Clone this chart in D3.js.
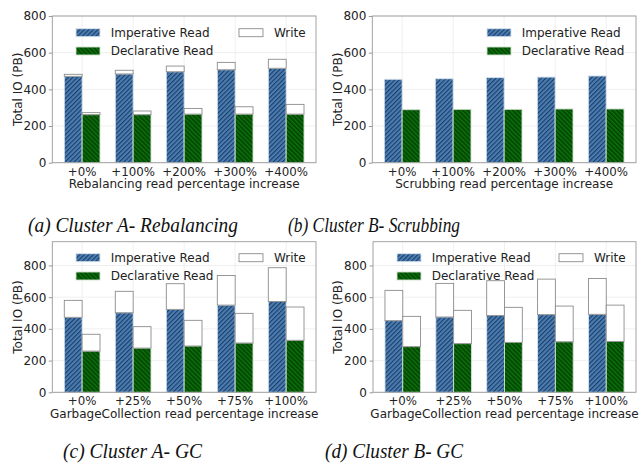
<!DOCTYPE html>
<html>
<head>
<meta charset="utf-8">
<script src="https://cdn.jsdelivr.net/npm/d3@7"></script>
<style>
  body { margin: 0; background: #fff; }
  text { font-family: "DejaVu Sans", sans-serif; }
</style>
</head>
<body>
<div id="chart"></div>
<script>
// categories
var rebLabels = ["+0%", "+100%", "+200%", "+300%", "+400%"];
var gcLabels = ["+0%", "+25%", "+50%", "+75%", "+100%"];
var yTicks = [0, 200, 400, 600, 800];

// (a) Cluster A - Rebalancing
var aImpRead = [471, 484, 496, 507, 515];
var aImpWrite = [11, 20, 31, 40, 49];
var aDecRead = [262, 262, 265, 265, 265];
var aDecWrite = [11, 20, 31, 40, 53];

// (b) Cluster B - Scrubbing
var bImpRead = [455, 458, 464, 467, 473];
var bDecRead = [289, 291, 291, 293, 293];

// (c) Cluster A - GC
var cImpRead = [473, 502, 523, 550, 573];
var cImpWrite = [107, 135, 162, 187, 213];
var cDecRead = [260, 279, 292, 311, 328];
var cDecWrite = [106, 135, 162, 187, 210];

// (d) Cluster B - GC
var dImpRead = [452, 475, 485, 490, 492];
var dImpWrite = [191, 212, 219, 224, 226];
var dDecRead = [288, 307, 315, 319, 321];
var dDecWrite = [191, 210, 221, 225, 229];

var svgWidth = 641;
var svgHeight = 463;

var svg = d3.select("#chart").append("svg")
  .attr("width", svgWidth)
  .attr("height", svgHeight);

// hatch patterns
var defs = svg.append("defs");
function hatch(id, bg, fg, angle) {
  var p = defs.append("pattern")
    .attr("id", id)
    .attr("patternUnits", "userSpaceOnUse")
    .attr("width", 3.2)
    .attr("height", 3.2)
    .attr("patternTransform", "rotate(" + angle + ")");
  p.append("rect").attr("width", 3.2).attr("height", 3.2).attr("fill", bg);
  p.append("rect").attr("width", 1.1).attr("height", 3.2).attr("fill", fg);
}
hatch("impHatch", "#4a7db3", "#1d3d63", 45);
hatch("decHatch", "#0a6a0a", "#013a01", -45);

var panels = [
  {ox: 0, oy: 0, left: 52.3, right: 316, top: 16, bottom: 162.7, ymax: 800,
   labels: rebLabels, xlabel: "Rebalancing read percentage increase",
   impRead: aImpRead, impWrite: aImpWrite, decRead: aDecRead, decWrite: aDecWrite,
   tickY: 175.5, xlabelY: 188, legend: [[76, 110.7], [239, 274]], legY: [32.7, 51],
   caption: "(a) Cluster A- Rebalancing", capX: 28, capY: 232, capW: 210},
  {ox: 320, oy: 0, left: 52.3, right: 316, top: 16, bottom: 162.7, ymax: 800,
   labels: rebLabels, xlabel: "Scrubbing read percentage increase",
   impRead: bImpRead, impWrite: null, decRead: bDecRead, decWrite: null,
   tickY: 175.5, xlabelY: 188, legend: [[167, 201.7]], legY: [32.7, 51],
   caption: "(b) Cluster B- Scrubbing", capX: -32, capY: 232, capW: 172},
  {ox: 0, oy: 225, left: 52.3, right: 316, top: 16.7, bottom: 167.3, ymax: 950,
   labels: gcLabels, xlabel: "GarbageCollection read percentage increase",
   impRead: cImpRead, impWrite: cImpWrite, decRead: cDecRead, decWrite: cDecWrite,
   tickY: 179.5, xlabelY: 193, legend: [[76, 110.7], [239, 274]], legY: [32.7, 51],
   caption: "(c) Cluster A- GC", capX: 63, capY: 233, capW: 139},
  {ox: 320, oy: 225, left: 53, right: 316, top: 16.7, bottom: 167.3, ymax: 950,
   labels: gcLabels, xlabel: "GarbageCollection read percentage increase",
   impRead: dImpRead, impWrite: dImpWrite, decRead: dDecRead, decWrite: dDecWrite,
   tickY: 179.5, xlabelY: 193, legend: [[77, 111.7], [239, 274]], legY: [32.7, 51],
   caption: "(d) Cluster B- GC", capX: 5, capY: 233, capW: 138}
];

panels.forEach(function(p) { drawPanel(p); });

function drawPanel(p) {
  var g = svg.append("g").attr("transform", "translate(" + p.ox + "," + p.oy + ")");
  var idx = d3.range(p.labels.length);
  var w = 0.35;

  var x = d3.scaleLinear().domain([-0.585, 4.585]).range([p.left, p.right]);
  var y = d3.scaleLinear().domain([0, p.ymax]).range([p.bottom, p.top]);

  // grid
  g.append("g").selectAll("line").data(yTicks).enter().append("line")
    .attr("x1", p.left).attr("x2", p.right)
    .attr("y1", function(d) { return y(d); }).attr("y2", function(d) { return y(d); })
    .attr("stroke", "#ebebeb").attr("stroke-width", 0.8);
  g.append("g").selectAll("line").data(idx).enter().append("line")
    .attr("x1", function(d) { return x(d); }).attr("x2", function(d) { return x(d); })
    .attr("y1", p.top).attr("y2", p.bottom)
    .attr("stroke", "#ebebeb").attr("stroke-width", 0.8);

  // bars
  function bars(vals, base, offset, fill, stroke) {
    g.append("g").selectAll("rect").data(idx).enter().append("rect")
      .attr("x", function(i) { return x(i + offset); })
      .attr("width", x(w) - x(0))
      .attr("y", function(i) { return y((base ? base[i] : 0) + vals[i]); })
      .attr("height", function(i) { return y(base ? base[i] : 0) - y((base ? base[i] : 0) + vals[i]); })
      .attr("fill", fill)
      .attr("stroke", stroke)
      .attr("stroke-width", 0.9);
  }
  bars(p.impRead, null, -w, "url(#impHatch)", "#d9e3ee");
  bars(p.decRead, null, 0, "url(#decHatch)", "#cfe0cf");
  if (p.impWrite) {
    bars(p.impWrite, p.impRead, -w, "#fff", "#8c8c8c");
    bars(p.decWrite, p.decRead, 0, "#fff", "#8c8c8c");
  }

  // frame
  g.append("rect")
    .attr("x", p.left).attr("y", p.top)
    .attr("width", p.right - p.left).attr("height", p.bottom - p.top)
    .attr("fill", "none").attr("stroke", "#999").attr("stroke-width", 0.9);

  // y axis
  var yAxis = d3.axisLeft(y).tickValues(yTicks).tickSize(3.5).tickPadding(2.5);
  var ya = g.append("g").attr("transform", "translate(" + p.left + ",0)").call(yAxis);
  ya.select(".domain").remove();
  ya.selectAll("line").attr("stroke", "#999");
  ya.selectAll("text").attr("font-size", 12).attr("fill", "#222")
    .style("font-family", "DejaVu Sans");

  // x tick labels
  g.append("g").selectAll("text").data(idx).enter().append("text")
    .attr("x", function(i) { return x(i); })
    .attr("y", p.tickY)
    .attr("text-anchor", "middle")
    .attr("font-size", 11.8).attr("fill", "#222")
    .text(function(i) { return p.labels[i]; });

  g.append("text")
    .attr("x", (p.left + p.right) / 2)
    .attr("y", p.xlabelY)
    .attr("text-anchor", "middle")
    .attr("font-size", 12).attr("fill", "#222")
    .text(p.xlabel);

  g.append("text")
    .attr("transform", "translate(21.5," + (p.top + p.bottom) / 2 + ") rotate(-90)")
    .attr("text-anchor", "middle")
    .attr("font-size", 12).attr("fill", "#222")
    .text("Total IO (PB)");

  // legend
  var items = [
    [p.legend[0], p.legY[0], "url(#impHatch)", "#d9e3ee", "Imperative Read"],
    [p.legend[0], p.legY[1], "url(#decHatch)", "#cfe0cf", "Declarative Read"]
  ];
  if (p.legend.length > 1) items.push([p.legend[1], p.legY[0], "#fff", "#8c8c8c", "Write"]);
  items.forEach(function(it) {
    g.append("rect")
      .attr("x", it[0][0]).attr("y", it[1] - 4)
      .attr("width", 24).attr("height", 8)
      .attr("fill", it[2]).attr("stroke", it[3]).attr("stroke-width", 0.9);
    g.append("text")
      .attr("x", it[0][1]).attr("y", it[1] + 4.3)
      .attr("font-size", 12).attr("fill", "#222")
      .text(it[4]);
  });

  // caption
  g.append("text")
    .attr("x", p.capX).attr("y", p.capY)
    .style("font-family", "Liberation Serif")
    .attr("font-style", "italic")
    .attr("font-size", 21).attr("fill", "#111")
    .attr("textLength", p.capW)
    .attr("lengthAdjust", "spacingAndGlyphs")
    .text(p.caption);
}
</script>
</body>
</html>
